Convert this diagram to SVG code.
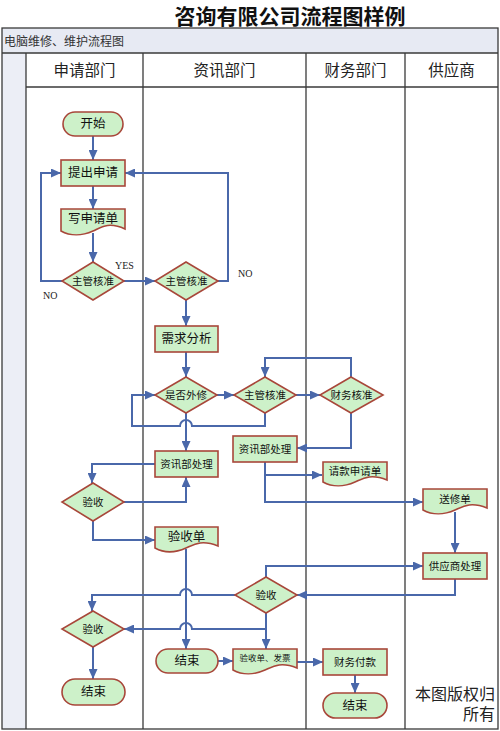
<svg xmlns="http://www.w3.org/2000/svg" width="500" height="731" viewBox="0 0 500 731">
<style>
.frame{fill:none;stroke:#3a3a3a;stroke-width:1.3}
.node{fill:#cdf1c9;stroke:#a8473a;stroke-width:1.6}
.t{font-family:"Liberation Serif","Noto Sans CJK SC",serif;fill:#111;text-anchor:middle;dominant-baseline:central}
.s12{font-size:12.5px}
.s10{font-size:10.5px}
.s9{font-size:8.5px}
.hd{font-family:"Liberation Serif","Noto Sans CJK SC",serif;font-size:15.5px;fill:#222;text-anchor:middle}
.lbl{font-family:"Liberation Serif","Noto Sans CJK SC",serif;font-size:10px;fill:#222}
.c{fill:none;stroke:#4a68aa;stroke-width:2}
</style>
<defs>
<marker id="ah" markerUnits="userSpaceOnUse" markerWidth="10" markerHeight="9" refX="10" refY="4.5" orient="auto">
<path d="M0,0 L10,4.5 L0,9 Z" fill="#4a68aa"/>
</marker>
</defs>
<rect width="500" height="731" fill="#fff"/>
<text x="290" y="24" font-family="'Noto Sans CJK SC',sans-serif" font-size="21" font-weight="bold" text-anchor="middle" fill="#111">咨询有限公司流程图样例</text>
<g id="frame">
<rect x="2" y="28" width="496" height="25" fill="#e7eaf3"/>
<rect x="2" y="53" width="24" height="676" fill="#eceef6"/>
<rect x="2" y="28" width="496" height="701" class="frame"/>
<line x1="2" y1="53" x2="498" y2="53" class="frame"/>
<line x1="26" y1="87" x2="498" y2="87" class="frame"/>
<line x1="26" y1="53" x2="26" y2="729" class="frame"/>
<line x1="143" y1="53" x2="143" y2="729" class="frame"/>
<line x1="306" y1="53" x2="306" y2="729" class="frame"/>
<line x1="405" y1="53" x2="405" y2="729" class="frame"/>
<text x="4" y="46" font-family="'Liberation Serif','Noto Sans CJK SC',serif" font-size="12" fill="#333">电脑维修、维护流程图</text>
<text x="84.5" y="76" class="hd">申请部门</text>
<text x="224.5" y="76" class="hd">资讯部门</text>
<text x="355.5" y="76" class="hd">财务部门</text>
<text x="451.5" y="76" class="hd">供应商</text>
</g>
<g id="connectors">
<path class="c" marker-end="url(#ah)" d="M93 136 V160"/>
<path class="c" marker-end="url(#ah)" d="M93 186 V209"/>
<path class="c" marker-end="url(#ah)" d="M93 233 V262"/>
<path class="c" marker-end="url(#ah)" d="M62 281 H41 V173 H61"/>
<path class="c" marker-end="url(#ah)" d="M124 281 H155"/>
<path class="c" marker-end="url(#ah)" d="M218 281 H228 V173 H125"/>
<path class="c" marker-end="url(#ah)" d="M186 300 V326"/>
<path class="c" marker-end="url(#ah)" d="M186 352 V377"/>
<path class="c" marker-end="url(#ah)" d="M217 395 H234"/>
<path class="c" marker-end="url(#ah)" d="M296 395 H320"/>
<path class="c" marker-end="url(#ah)" d="M351 377 V358 H265 V377"/>
<path class="c" marker-end="url(#ah)" d="M265 413 V426 H192 A6 6 0 0 0 180 426 H132 V395 H155"/>
<path class="c" marker-end="url(#ah)" d="M186 413 V451"/>
<path class="c" marker-end="url(#ah)" d="M351 413 V448 H297"/>
<path class="c" marker-end="url(#ah)" d="M265 462 V502 H423"/>
<path class="c" marker-end="url(#ah)" d="M265 475 H322"/>
<path class="c" marker-end="url(#ah)" d="M155 464 H92 V483"/>
<path class="c" marker-end="url(#ah)" d="M124 502 H186 V477"/>
<path class="c" marker-end="url(#ah)" d="M93 521 V540 H155"/>
<path class="c" marker-end="url(#ah)" d="M455 512 V553"/>
<path class="c" marker-end="url(#ah)" d="M455 579 V595 H297"/>
<path class="c" marker-end="url(#ah)" d="M266 577 V566 H423"/>
<path class="c" marker-end="url(#ah)" d="M186 549 V649"/>
<path class="c" marker-end="url(#ah)" d="M235 595 H192 A6 6 0 0 0 180 595 H92 V611"/>
<path class="c" marker-end="url(#ah)" d="M266 613 V649"/>
<path class="c" marker-end="url(#ah)" d="M266 629 H192 A6 6 0 0 0 180 629 H124"/>
<path class="c" marker-end="url(#ah)" d="M93 647 V679"/>
<path class="c" marker-end="url(#ah)" d="M218 661 H233"/>
<path class="c" marker-end="url(#ah)" d="M297 662 H323"/>
<path class="c" marker-end="url(#ah)" d="M355 675 V693"/>
</g>
<g id="start">
<rect x="63" y="112" width="60" height="24" rx="12" class="node"/>
<text x="93" y="124" class="t s12">开始</text>
</g>
<g id="submit">
<rect x="61" y="160" width="64" height="26" class="node"/>
<text x="93" y="173" class="t s12">提出申请</text>
</g>
<g id="write-form">
<path d="M61 209 H125 V229 C108 221 100 228 93 231 C82 236 70 236 61 231 Z" class="node"/>
<text x="93" y="219" class="t s12">写申请单</text>
</g>
<g id="approve1">
<path d="M93 262 L124 281 L93 300 L62 281 Z" class="node"/>
<text x="93" y="281" class="t s10">主管核准</text>
</g>
<text x="115" y="269" class="lbl">YES</text>
<text x="43" y="299" class="lbl">NO</text>
<text x="238" y="277" class="lbl">NO</text>
<g id="approve2">
<path d="M186 262 L218 281 L186 300 L155 281 Z" class="node"/>
<text x="186.5" y="281" class="t s10">主管核准</text>
</g>
<g id="analysis">
<rect x="155" y="326" width="63" height="26" class="node"/>
<text x="186.5" y="339" class="t s12">需求分析</text>
</g>
<g id="outsource">
<path d="M186 377 L217 395 L186 413 L155 395 Z" class="node"/>
<text x="186" y="395" class="t s10">是否外修</text>
</g>
<g id="approve3">
<path d="M265 377 L296 395 L265 413 L234 395 Z" class="node"/>
<text x="265" y="395" class="t s10">主管核准</text>
</g>
<g id="finance-approve">
<path d="M351 377 L383 395 L351 413 L320 395 Z" class="node"/>
<text x="351.5" y="395" class="t s10">财务核准</text>
</g>
<g id="it-process1">
<rect x="155" y="451" width="63" height="26" class="node"/>
<text x="186.5" y="464" class="t s10">资讯部处理</text>
</g>
<g id="it-process2">
<rect x="233" y="436" width="64" height="26" class="node"/>
<text x="265" y="449" class="t s10">资讯部处理</text>
</g>
<g id="payment-request">
<path d="M323 462 H387 V480 C370 473 362 479 355 482 C344 487 332 487 323 482 Z" class="node"/>
<text x="355" y="471" class="t s10">请款申请单</text>
</g>
<g id="check1">
<path d="M93 483 L124 502 L93 521 L62 502 Z" class="node"/>
<text x="93" y="502" class="t s10">验收</text>
</g>
<g id="acceptance-form">
<path d="M155 527 H218 V546 C201 539 193 545 186 548 C175 553 164 553 155 548 Z" class="node"/>
<text x="186.5" y="537" class="t s12">验收单</text>
</g>
<g id="repair-form">
<path d="M423 489 H487 V508 C470 501 462 507 455 510 C444 515 432 515 423 510 Z" class="node"/>
<text x="455" y="499" class="t s10">送修单</text>
</g>
<g id="supplier-process">
<rect x="423" y="553" width="64" height="26" class="node"/>
<text x="455" y="566" class="t s10">供应商处理</text>
</g>
<g id="check2">
<path d="M266 577 L297 595 L266 613 L235 595 Z" class="node"/>
<text x="266" y="595" class="t s10">验收</text>
</g>
<g id="check3">
<path d="M93 611 L124 629 L93 647 L62 629 Z" class="node"/>
<text x="93" y="629" class="t s10">验收</text>
</g>
<g id="end-it">
<rect x="156" y="649" width="62" height="24" rx="12" class="node"/>
<text x="187" y="661" class="t s12">结束</text>
</g>
<g id="form-invoice">
<path d="M233 649 H297 V668 C280 661 272 667 265 670 C254 675 242 675 233 670 Z" class="node"/>
<text x="265" y="658" class="t s9">验收单、发票</text>
</g>
<g id="finance-pay">
<rect x="323" y="649" width="64" height="26" class="node"/>
<text x="355" y="662" class="t s10">财务付款</text>
</g>
<g id="end-apply">
<rect x="62" y="679" width="63" height="26" rx="13" class="node"/>
<text x="93.5" y="692" class="t s12">结束</text>
</g>
<g id="end-finance">
<rect x="323" y="693" width="64" height="25" rx="12.5" class="node"/>
<text x="355" y="705.5" class="t s12">结束</text>
</g>
<text x="495" y="700" font-family="'Liberation Serif','Noto Sans CJK SC',serif" font-size="16" text-anchor="end" fill="#222">本图版权归</text>
<text x="495" y="720" font-family="'Liberation Serif','Noto Sans CJK SC',serif" font-size="16" text-anchor="end" fill="#222">所有</text>
</svg>
